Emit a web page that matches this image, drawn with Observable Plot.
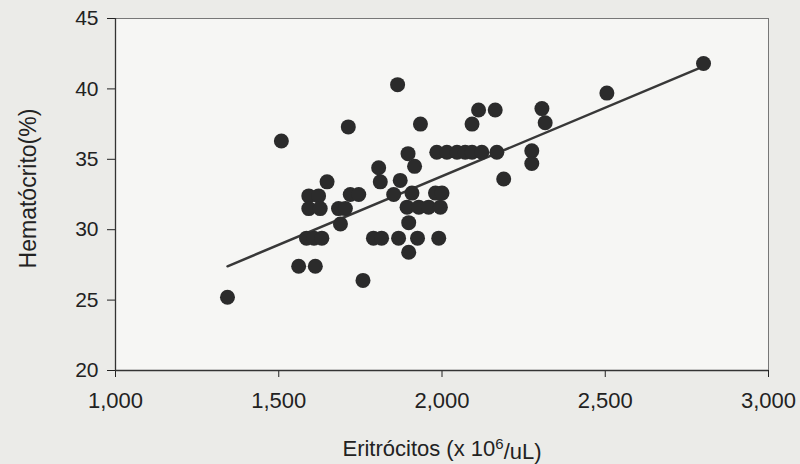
<!DOCTYPE html>
<html><head><meta charset="utf-8">
<script src="https://cdn.jsdelivr.net/npm/d3@7"></script>
<script src="https://cdn.jsdelivr.net/npm/@observablehq/plot@0.6"></script>
<style>html,body{margin:0;padding:0;background:#ebebe8;}</style>
</head><body><div id="chart"></div><script>
const eritrocitos = [
  1343, 1508, 1561, 1612, 1758, 1713, 1864, 1934,
  1648, 1592, 1622, 1592, 1627, 1719, 1745, 1683, 1704, 1689,
  1585, 1608, 1632, 1790, 1815, 1867, 1925, 1990,
  1898, 1898, 1893, 1929, 1959, 1995,
  1852, 1908, 1980, 2000, 1811, 1872, 1806, 1916, 1896,
  1984, 2015, 2046, 2071, 2092, 2122, 2168,
  2092, 2112, 2163, 2306, 2316, 2275, 2275, 2189, 2505, 2801
];
const hematocrito = [
  25.2, 36.3, 27.4, 27.4, 26.4, 37.3, 40.3, 37.5,
  33.4, 32.4, 32.4, 31.5, 31.5, 32.5, 32.5, 31.5, 31.5, 30.4,
  29.4, 29.4, 29.4, 29.4, 29.4, 29.4, 29.4, 29.4,
  28.4, 30.5, 31.6, 31.6, 31.6, 31.6,
  32.5, 32.6, 32.6, 32.6, 33.4, 33.5, 34.4, 34.5, 35.4,
  35.5, 35.5, 35.5, 35.5, 35.5, 35.5, 35.5,
  37.5, 38.5, 38.5, 38.6, 37.6, 35.6, 34.7, 33.6, 39.7, 41.8
];
const trendX = [1343, 2801];
const trendY = [27.4, 41.6];
const xTicks = [1000, 1500, 2000, 2500, 3000];
const yTicks = [20, 25, 30, 35, 40, 45];
const xLabel = "Eritrócitos (x 10⁶/uL)";
const yLabel = "Hematócrito(%)";

const points = eritrocitos.map((x, i) => ({x, y: hematocrito[i]}));
const trend = trendX.map((x, i) => ({x, y: trendY[i]}));

const chart = Plot.plot({
  width: 800, height: 464,
  marginLeft: 115, marginRight: 32, marginTop: 18, marginBottom: 94,
  style: {background: "transparent", fontFamily: "'Liberation Sans', Arial, sans-serif", fontSize: "21px", color: "#222"},
  x: {domain: [1000, 3000]},
  y: {domain: [20, 45]},
  marks: [
    Plot.frame({fill: "#f6f6f4", stroke: "#777", strokeWidth: 1}),
    Plot.axisX({ticks: xTicks, tickFormat: d3.format(","), tickSize: 7, tickPadding: 15, label: null, fontSize: 22}),
    Plot.axisY({ticks: yTicks, tickSize: 8, tickPadding: 9, label: null, fontSize: 21}),
    Plot.ruleY([20], {stroke: "#333", strokeWidth: 1.3}),
    Plot.ruleX([1000], {stroke: "#333", strokeWidth: 1.3}),
    Plot.line(trend, {x: "x", y: "y", stroke: "#383838", strokeWidth: 2.5}),
    Plot.dot(points, {x: "x", y: "y", r: 7.5, fill: "#2b2b2b", stroke: "none"}),
    Plot.text([xLabel], {frameAnchor: "bottom", textAnchor: "middle", lineAnchor: "middle", dy: 78, fontSize: 22, fill: "#222"}),
    Plot.text([yLabel], {frameAnchor: "left", textAnchor: "middle", lineAnchor: "middle", dx: -87, dy: -6, rotate: -90, fontSize: 23, fill: "#222"})
  ]
});
document.getElementById("chart").appendChild(chart);
// render the superscript 6 as a raised tspan
d3.select(chart).selectAll("text").each(function() {
  const t = this.textContent;
  const i = t.indexOf("⁶");
  if (i < 0) return;
  const el = d3.select(this);
  el.text(null);
  el.append("tspan").text(t.slice(0, i));
  el.append("tspan").attr("dy", "-0.45em").attr("font-size", "15px").text("6");
  el.append("tspan").attr("dy", "0.45em").text(t.slice(i + 1));
});
</script></body></html>
